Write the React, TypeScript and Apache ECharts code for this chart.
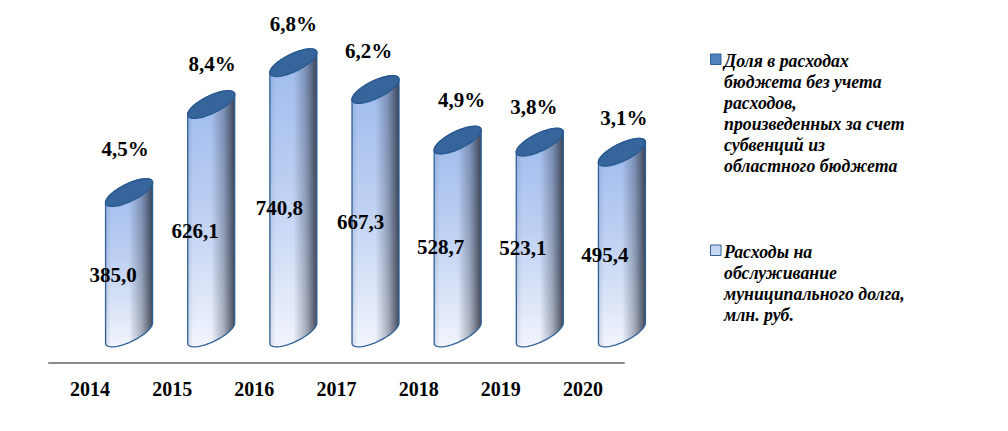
import React, { useEffect, useRef } from "react";
import * as echarts from "echarts";

const categories = ["2014", "2015", "2016", "2017", "2018", "2019", "2020"];
const spending = [385.0, 626.1, 740.8, 667.3, 528.7, 523.1, 495.4];
const shares = [4.5, 8.4, 6.8, 6.2, 4.9, 3.8, 3.1];
const legendShare = ["Доля в расходах", "бюджета без учета", "расходов,", "произведенных за счет", "субвенций из", "областного бюджета"];
const legendSpending = ["Расходы на", "обслуживание", "муниципального долга,", "млн. руб."];

// label nudges in pixels
const spendingLabelDx = [-16, -16, -14, -15, -17, -17, -17];
const spendingLabelDy = [5, 0, -4, -2, 0, 0, 3];
const shareLabelDx = [-4, 1, 0, -7, 4, -6, 2];
const shareLabelDy = [-44, -41, -39, -39, -40, -35, -34];

const FONT = '"Liberation Serif", "Times New Roman", serif';
const HALF_W = 23.5;
const SHEAR = 10;
const DEPTH = 9.5;
const BAR_OFFSET = 39;
const STEPS = 36;

const pt = (cx: number, cy: number, t: number): number[] => [
  cx + HALF_W * Math.cos(t),
  cy - SHEAR * Math.cos(t) + DEPTH * Math.sin(t),
];

const renderCylinder = (params: any, api: any) => {
  const i = params.dataIndex;
  const v = api.value(1);
  const [catX, topY] = api.coord([api.value(0), v]);
  const [, baseY] = api.coord([api.value(0), 0]);
  const [, labelY] = api.coord([api.value(0), v * 0.446]);
  const cx = catX + BAR_OFFSET;

  const body: number[][] = [];
  for (let k = 0; k <= STEPS; k++) body.push(pt(cx, baseY, Math.PI - (Math.PI * k) / STEPS));
  for (let k = 0; k <= STEPS; k++) body.push(pt(cx, topY, -(Math.PI * k) / STEPS));
  const cap: number[][] = [];
  for (let k = 0; k < STEPS * 2; k++) cap.push(pt(cx, topY, (Math.PI * k) / STEPS));

  return {
    type: "group",
    children: [
      {
        type: "polygon",
        shape: { points: body },
        style: {
          fill: new echarts.graphic.LinearGradient(0, 0, 0, 1, [
            { offset: 0, color: "#9dbaec" },
            { offset: 0.45, color: "#bccff2" },
            { offset: 1, color: "#f1f4fc" },
          ]),
          stroke: "none",
        },
      },
      {
        type: "polygon",
        shape: { points: body },
        style: {
          fill: new echarts.graphic.LinearGradient(0, 0, 1, 0, [
            { offset: 0, color: "rgba(70,100,150,0.18)" },
            { offset: 0.12, color: "rgba(70,100,150,0)" },
            { offset: 0.5, color: "rgba(60,70,90,0)" },
            { offset: 0.76, color: "rgba(60,70,90,0.38)" },
            { offset: 1, color: "rgba(45,50,65,0.88)" },
          ]),
          stroke: "#2f6096",
          lineWidth: 1.3,
        },
      },
      {
        type: "polygon",
        shape: { points: cap },
        style: { fill: "#36659b", stroke: "#2a5b94", lineWidth: 1.5 },
      },
      {
        type: "text",
        style: {
          x: cx + spendingLabelDx[i],
          y: labelY + spendingLabelDy[i],
          text: spending[i].toFixed(1).replace(".", ","),
          font: `bold 21px ${FONT}`,
          fill: "#000",
          align: "center",
          verticalAlign: "middle",
        },
      },
      {
        type: "text",
        style: {
          x: cx + shareLabelDx[i],
          y: topY + shareLabelDy[i],
          text: shares[i].toFixed(1).replace(".", ",") + "%",
          font: `bold 21px ${FONT}`,
          fill: "#000",
          align: "center",
          verticalAlign: "middle",
        },
      },
    ],
  };
};

const legendBlock = (lines: string[], markerY: number, textY: number, marker: string) => [
  {
    type: "rect",
    shape: { x: 710.5, y: markerY, width: 10.5, height: 10.5 },
    style: { fill: marker, stroke: "#2f6096", lineWidth: 1 },
  },
  ...lines.map((line, k) => ({
    type: "text",
    style: {
      x: 724,
      y: textY + k * 21,
      text: line,
      font: `italic bold 17.8px ${FONT}`,
      fill: "#000",
      verticalAlign: "middle",
    },
  })),
];

export default function App() {
  const ref = useRef<HTMLDivElement>(null);
  useEffect(() => {
    document.body.style.margin = "0";
    const chart = echarts.init(ref.current!, undefined, { renderer: "svg" });
    chart.setOption({
      animation: false,
      backgroundColor: "#fff",
      grid: { left: 49, width: 575, top: 4.6, height: 358.4 },
      xAxis: {
        type: "category",
        data: categories,
        axisLine: { onZero: false, lineStyle: { color: "#8c8c8c", width: 2 } },
        axisTick: { show: false },
        axisLabel: {
          margin: 16,
          color: "#000",
          fontFamily: FONT,
          fontWeight: "bold",
          fontSize: 20,
        },
      },
      yAxis: { type: "value", min: -82, max: 900, show: false, splitLine: { show: false } },
      graphic: [
        ...legendBlock(legendShare, 54, 61, "#4f81bd"),
        ...legendBlock(legendSpending, 245, 252, "#c6d7f2"),
      ],
      series: [
        {
          type: "custom",
          name: "Расходы на обслуживание муниципального долга, млн. руб.",
          clip: false,
          encode: { x: 0, y: 1 },
          data: categories.map((c, i) => [c, spending[i]]),
          renderItem: renderCylinder,
        },
      ],
    });
    return () => chart.dispose();
  }, []);
  return <div ref={ref} style={{ width: 1008, height: 431 }} />;
}
